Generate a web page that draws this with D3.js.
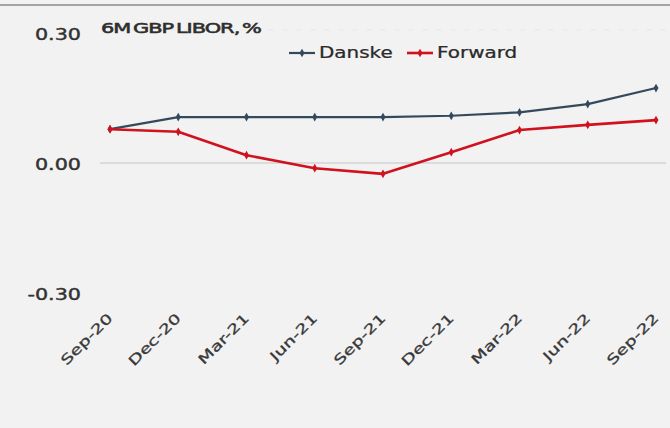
<!DOCTYPE html>
<html>
<head>
<meta charset="utf-8">
<script src="https://cdn.jsdelivr.net/npm/d3@7"></script>
<style>
  html, body { margin: 0; padding: 0; background: #f2f2f2; }
  svg { display: block; }
  text { font-family: "DejaVu Sans", Verdana, sans-serif; fill: #3a3a3a; }
</style>
</head>
<body>
<svg id="chart" width="670" height="428"></svg>
<script>
// Quarter-end dates on the x axis
const quarters = ["Sep-20", "Dec-20", "Mar-21", "Jun-21", "Sep-21", "Dec-21", "Mar-22", "Jun-22", "Sep-22"];
// 6M GBP LIBOR, %
const danske  = [0.078, 0.106, 0.106, 0.106, 0.106, 0.109, 0.117, 0.136, 0.173];
const forward = [0.078, 0.072, 0.018, -0.012, -0.025, 0.025, 0.076, 0.088, 0.099];
const yTicks = [-0.30, 0.00, 0.30];

const seriesList = [
  { name: "Danske",  values: danske,  color: "#34495c", width: 2.2 },
  { name: "Forward", values: forward, color: "#d0121f", width: 2.6 }
];

// wide, extended lettering
const STRETCH = 1.35;

const svg = d3.select("#chart");

// top rule
svg.append("line").attr("x1", 0).attr("x2", 670).attr("y1", 5).attr("y2", 5)
  .attr("stroke", "#8a8a8a").attr("stroke-width", 1.5);

const x = d3.scalePoint().domain(quarters).range([110, 656]);
const y = d3.scaleLinear().domain([-0.30, 0.30]).range([293, 33]);

// faint top gridline and zero line
svg.append("line").attr("x1", 100).attr("x2", 668)
  .attr("y1", y(0.30) - 3).attr("y2", y(0.30) - 3)
  .attr("stroke", "#e8e8e8").attr("stroke-width", 1).attr("stroke-dasharray", "6,8");
svg.append("line").attr("x1", 100).attr("x2", 666)
  .attr("y1", y(0)).attr("y2", y(0))
  .attr("stroke", "#c4c4c4").attr("stroke-width", 1.2);

// y axis labels
const yAxis = d3.axisLeft(y).tickValues(yTicks).tickFormat(d => d.toFixed(2))
  .tickSize(0).tickPadding(0);
const yg = svg.append("g").attr("transform", "translate(81,1)").call(yAxis);
yg.select(".domain").remove();
yg.selectAll("text").style("font-size", "15px").style("fill", "#333")
  .style("stroke", "#333").style("stroke-width", "0.4px")
  .attr("x", 0).attr("dy", "0.35em")
  .attr("transform", `scale(${STRETCH + 0.03},1)`);

// x axis labels, rotated
const xAxis = d3.axisBottom(x).tickSize(0).tickPadding(0);
const xg = svg.append("g").attr("transform", "translate(0,300)").call(xAxis);
xg.select(".domain").remove();
xg.selectAll("text")
  .style("font-size", "13.5px").style("fill", "#383838")
  .style("stroke", "#383838").style("stroke-width", "0.3px")
  .attr("text-anchor", "end")
  .attr("dy", "0")
  .attr("y", 0)
  .attr("transform", `translate(3,19) rotate(-45) scale(${STRETCH + 0.05},1)`);

// series lines and markers
const line = d3.line().x((d, i) => x(quarters[i])).y(d => y(d));
seriesList.forEach(s => {
  svg.append("path").datum(s.values)
    .attr("d", line).attr("fill", "none")
    .attr("stroke", s.color).attr("stroke-width", s.width)
    .attr("stroke-linejoin", "round");
  svg.selectAll(null).data(s.values).enter().append("path")
    .attr("d", d3.symbol().type(d3.symbolDiamond).size(22))
    .attr("transform", (d, i) => `translate(${x(quarters[i])},${y(d)})`)
    .attr("fill", s.color);
});

// title, set in tight caps and widened to its column
const title = svg.append("text")
  .text("6M GBP LIBOR, %")
  .style("font-size", "14.5px")
  .style("letter-spacing", "-0.7px").style("word-spacing", "-2px")
  .style("fill", "#2e2e2e").style("stroke", "#2e2e2e").style("stroke-width", "0.55px");
const titleW = title.node().getComputedTextLength();
title.attr("transform", `translate(101,33) scale(${160 / titleW},1)`);

// legend
const legend = svg.append("g").attr("transform", "translate(289,53)");
const legendX = [0, 118];
seriesList.forEach((s, i) => {
  const g = legend.append("g").attr("transform", `translate(${legendX[i]},0)`);
  g.append("line").attr("x1", 0).attr("x2", 26).attr("y1", 0).attr("y2", 0)
    .attr("stroke", s.color).attr("stroke-width", s.width);
  g.append("path").attr("d", d3.symbol().type(d3.symbolDiamond).size(22))
    .attr("transform", "translate(13,0)").attr("fill", s.color);
  g.append("text").attr("transform", "translate(30,0) scale(1.33,1)")
    .attr("dy", "0.35em")
    .text(s.name).style("font-size", "15px").style("fill", "#2a2a2a")
    .style("stroke", "#2a2a2a").style("stroke-width", "0.25px");
});
</script>
</body>
</html>
